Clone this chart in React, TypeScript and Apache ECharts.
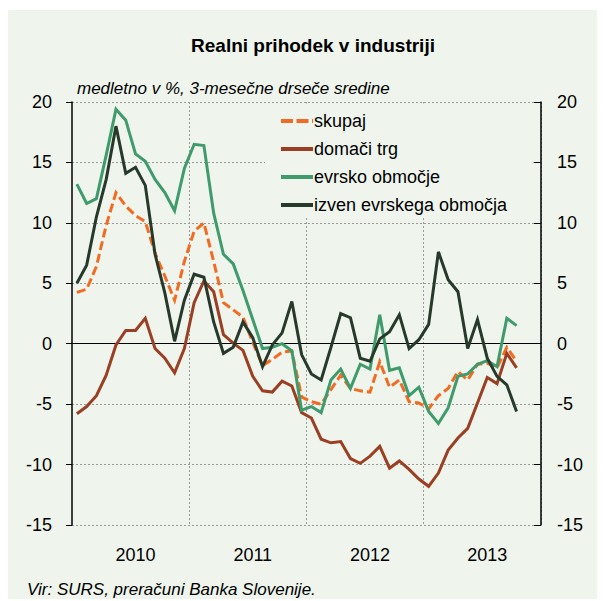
import React, { useEffect, useRef } from "react";
import * as echarts from "echarts";

const years = ["2010", "2011", "2012", "2013"];
const months = ["01", "02", "03", "04", "05", "06", "07", "08", "09", "10", "11", "12"];
const yTicks = { min: -15, max: 20, interval: 5 };

const seriesNames = ["skupaj", "domači trg", "evrsko območje", "izven evrskega območja"];

const skupaj = [
  4.25, 4.5, 6.4, 9.8, 12.5, 11.4, 10.6, 10.1, 7.5, 5.6, 3.6, 6.8,
  9.3, 10.0, 6.8, 3.4, 2.8, 2.2, 0.1, -1.8, -1.3, -0.7, -0.6, -4.4,
  -4.8, -5.0, -3.8, -2.6, -3.7, -3.9, -4.0, -1.5, -3.6, -3.0, -4.8, -4.9,
  -5.4, -4.3, -3.7, -2.3, -3.0, -1.7, -1.6, -2.0, -0.3, -1.45,
];
const domaciTrg = [
  -5.8, -5.2, -4.3, -2.6, -0.1, 1.1, 1.1, 2.1, -0.4, -1.2, -2.4, -0.4,
  3.4, 5.2, 4.3, 0.75, 0.05, -0.55, -2.7, -3.9, -4.0, -3.1, -3.5, -5.7,
  -6.15, -7.9, -8.2, -8.1, -9.5, -9.9, -9.3, -8.5, -10.3, -9.7, -10.4, -11.2,
  -11.8, -10.7, -8.8, -7.8, -7.0, -4.9, -2.8, -3.3, -0.8, -2.0,
];
const evrsko = [
  13.2, 11.6, 12.0, 15.6, 19.4, 18.5, 15.7, 15.1, 13.6, 12.5, 11.0, 14.5,
  16.5, 16.4, 10.8, 7.4, 6.6, 4.4, 2.0, -0.4, -0.3, 0.0, -0.6, -5.5,
  -5.2, -5.7, -3.0, -2.1, -3.7, -1.7, -2.1, 2.4, -2.2, -2.0, -4.3, -3.6,
  -5.6, -6.6, -5.3, -2.7, -2.5, -1.7, -1.4, -1.9, 2.1, 1.5,
];
const izven = [
  5.0, 6.5, 10.5, 13.6, 18.0, 14.1, 14.6, 13.1, 7.4, 4.2, 0.2, 3.6,
  5.75, 5.5, 1.8, -0.8, -0.3, 1.8, 0.5, -1.9, -0.1, 0.9, 3.5, -0.9,
  -2.5, -3.0, -0.3, 2.5, 2.15, -1.2, -1.45, 0.4, 1.0, 2.4, -0.4, 0.33,
  1.6, 7.6, 5.3, 4.3, -0.4, 2.0, -1.2, -2.7, -3.4, -5.6,
];

const BG = "#EFF5EC";
const FONT = "'Liberation Sans', Arial, sans-serif";
const GRID_COLOR = "#9a9a9a";
const COLORS = ["#F26B23", "#9A3F24", "#3F9B6C", "#26392A"];

const DASH_ICON = "path://M0,0h12v4h-12z M15.5,0h12v4h-12z M31,0h1v4h-1z";
const SOLID_ICON = "path://M0,0h32v4h-32z";

const categories = years.flatMap((y) => months.map((m) => `${y}-${m}`));

export default function App() {
  const ref = useRef<HTMLDivElement>(null);

  useEffect(() => {
    const chart = echarts.init(ref.current!, null, { renderer: "svg" });
    const gridLeft = 64;
    const gridTop = 92;
    const gridW = 469;
    const gridH = 423;
    const W = 597;
    const H = 591;

    const lineSeries = (name: string, data: number[], color: string, dashed = false) => ({
      name,
      type: "line",
      data,
      xAxisIndex: 0,
      yAxisIndex: 0,
      symbol: "none",
      showSymbol: false,
      lineStyle: { color, width: 3, type: dashed ? [9, 4] : "solid", cap: "butt", join: "miter" },
      itemStyle: { color },
      z: 3,
    });

    chart.setOption({
      animation: false,
      backgroundColor: BG,
      textStyle: { fontFamily: FONT },
      grid: {
        left: gridLeft,
        top: gridTop,
        right: W - gridLeft - gridW,
        bottom: H - gridTop - gridH,
        containLabel: false,
        outerBoundsMode: "none",
      },
      xAxis: [
        {
          type: "category",
          data: categories,
          position: "bottom",
          boundaryGap: true,
          axisLine: { show: false, onZero: false },
          axisTick: { show: false },
          axisLabel: {
            interval: (i: number) => i % 12 === 6,
            formatter: (v: string) => v.slice(0, 4),
            color: "#000",
            fontSize: 18,
            fontFamily: FONT,
            margin: 21,
          },
          splitLine: {
            show: true,
            interval: (i: number) => i % 12 === 0 && i > 0,
            lineStyle: { color: GRID_COLOR, width: 1, type: [2, 2] },
          },
        },
        {
          type: "category",
          data: categories,
          position: "top",
          boundaryGap: true,
          axisLine: { show: true, onZero: true, lineStyle: { color: "#000", width: 1.2 } },
          axisTick: { show: false },
          axisLabel: { show: false },
          splitLine: { show: false },
        },
      ],
      yAxis: [
        {
          type: "value",
          position: "left",
          min: yTicks.min,
          max: yTicks.max,
          interval: yTicks.interval,
          axisLine: { show: true, lineStyle: { color: "#000", width: 1.5 } },
          axisTick: { show: true, inside: false, length: 6, lineStyle: { color: "#000" } },
          axisLabel: { color: "#000", fontSize: 18, fontFamily: FONT, margin: 20 },
          splitLine: { show: true, lineStyle: { color: GRID_COLOR, width: 1, type: [2, 2] } },
        },
        {
          type: "value",
          position: "right",
          min: yTicks.min,
          max: yTicks.max,
          interval: yTicks.interval,
          axisLine: { show: true, lineStyle: { color: "#000", width: 1.5 } },
          axisTick: { show: true, inside: true, length: 7, lineStyle: { color: "#000" } },
          axisLabel: { color: "#000", fontSize: 18, fontFamily: FONT, margin: 16 },
          splitLine: { show: false },
        },
      ],
      legend: {
        orient: "vertical",
        left: 273,
        top: 101,
        itemWidth: 32,
        itemHeight: 4,
        itemGap: 8,
        padding: 0,
        data: seriesNames.map((name, i) => ({
          name,
          icon: i === 0 ? DASH_ICON : SOLID_ICON,
          itemStyle: { color: COLORS[i], borderWidth: 0 },
        })),
        itemStyle: { borderWidth: 0 },
        lineStyle: { width: 0 },
        textStyle: { color: "#000", fontSize: 18, fontFamily: FONT, lineHeight: 20, padding: [0, 0, 0, -4] },
      },
      graphic: [
        {
          type: "rect",
          z: 1,
          silent: true,
          shape: { x: 257, y: 93.5, width: 268, height: 114.5 },
          style: { fill: BG },
        },
        {
          type: "text",
          x: 305,
          y: 35,
          style: {
            text: "Realni prihodek v industriji",
            font: `bold 19px ${FONT}`,
            fill: "#000",
            textAlign: "center",
            align: "center",
            textVerticalAlign: "middle",
            verticalAlign: "middle",
          },
        },
        {
          type: "text",
          x: 69,
          y: 78,
          style: {
            text: "medletno v %, 3-mesečne drseče sredine",
            font: `italic 17px ${FONT}`,
            fill: "#000",
            textVerticalAlign: "middle",
            verticalAlign: "middle",
          },
        },
        {
          type: "text",
          x: 19,
          y: 579,
          style: {
            text: "Vir: SURS, preračuni Banka Slovenije.",
            font: `italic 17px ${FONT}`,
            fill: "#000",
            textVerticalAlign: "middle",
            verticalAlign: "middle",
          },
        },
      ],
      series: [
        lineSeries(seriesNames[0], skupaj, COLORS[0], true),
        lineSeries(seriesNames[1], domaciTrg, COLORS[1]),
        lineSeries(seriesNames[2], evrsko, COLORS[2]),
        lineSeries(seriesNames[3], izven, COLORS[3]),
      ],
    });
    return () => chart.dispose();
  }, []);

  return (
    <div
      ref={ref}
      style={{ width: 597, height: 591, position: "relative", top: 2 }}
    />
  );
}
